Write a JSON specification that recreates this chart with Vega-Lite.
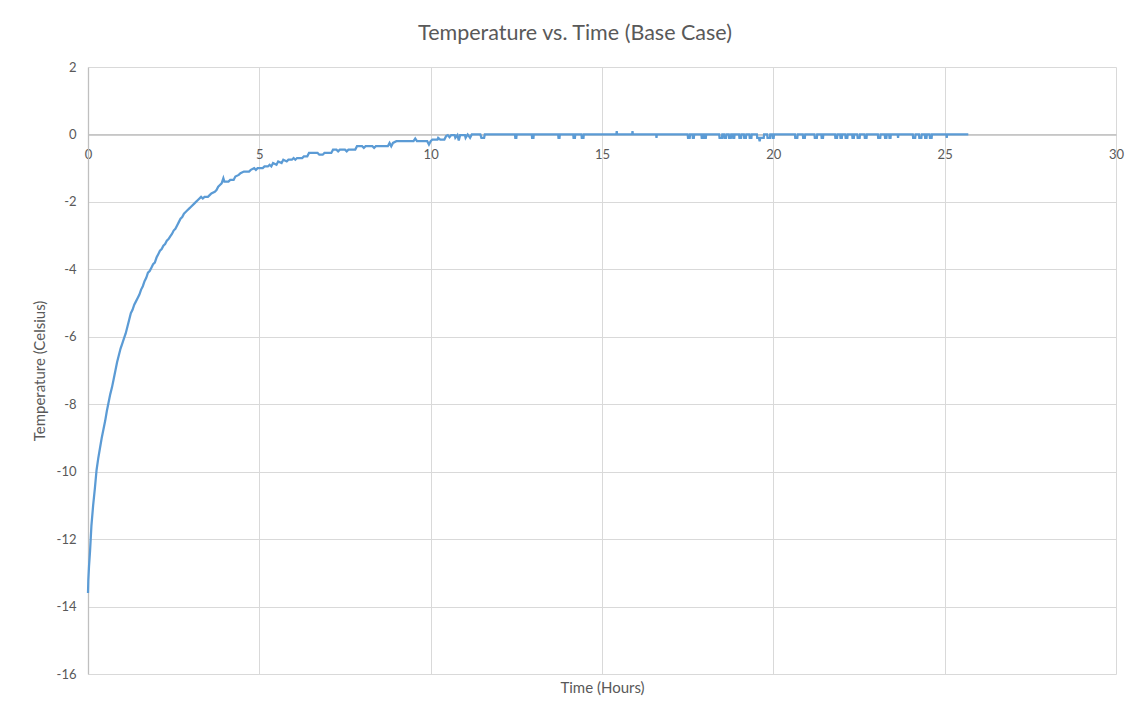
{
  "$schema": "https://vega.github.io/schema/vega-lite/v6.json",
  "width": 1028,
  "height": 607,
  "autosize": {"type": "none"},
  "padding": {"left": 88, "top": 67, "right": 17, "bottom": 41},
  "background": "white",
  "title": {"text": "Temperature vs. Time (Base Case)", "font": "Lato", "fontSize": 21.5, "fontWeight": "normal", "color": "#595959", "anchor": "middle", "dx": -27, "offset": 17},
  "config": {
    "view": {"stroke": null},
    "axis": {
      "labelFont": "Lato", "labelFontSize": 13, "labelColor": "#595959",
      "titleFont": "Lato", "titleFontSize": 15, "titleFontWeight": "normal", "titleColor": "#595959",
      "gridColor": "#D9D9D9", "gridWidth": 1, "domainColor": "#BFBFBF", "domainWidth": 1.3, "ticks": false,
      "labelExpr": "datum.value < 0 ? '-' + abs(datum.value) : '' + datum.value"
    }
  },
  "data": {"values": [
    {"hours": 0, "temp": -13.6}, {"hours": 0.01, "temp": -13.2}, {"hours": 0.03, "temp": -12.8}, {"hours": 0.06, "temp": -12.35},
    {"hours": 0.1, "temp": -11.6}, {"hours": 0.15, "temp": -11.0}, {"hours": 0.2, "temp": -10.5}, {"hours": 0.25, "temp": -9.95},
    {"hours": 0.3, "temp": -9.6}, {"hours": 0.35, "temp": -9.3}, {"hours": 0.4, "temp": -9.0}, {"hours": 0.45, "temp": -8.75},
    {"hours": 0.5, "temp": -8.5}, {"hours": 0.55, "temp": -8.2}, {"hours": 0.6, "temp": -7.95}, {"hours": 0.65, "temp": -7.7},
    {"hours": 0.7, "temp": -7.5}, {"hours": 0.75, "temp": -7.25}, {"hours": 0.8, "temp": -7.0}, {"hours": 0.85, "temp": -6.75},
    {"hours": 0.9, "temp": -6.55}, {"hours": 0.95, "temp": -6.35}, {"hours": 1.0, "temp": -6.2}, {"hours": 1.05, "temp": -6.05},
    {"hours": 1.1, "temp": -5.9}, {"hours": 1.15, "temp": -5.7}, {"hours": 1.2, "temp": -5.5}, {"hours": 1.25, "temp": -5.3},
    {"hours": 1.3, "temp": -5.2}, {"hours": 1.35, "temp": -5.05}, {"hours": 1.4, "temp": -4.95}, {"hours": 1.45, "temp": -4.85},
    {"hours": 1.5, "temp": -4.75}, {"hours": 1.55, "temp": -4.6}, {"hours": 1.6, "temp": -4.5}, {"hours": 1.65, "temp": -4.35},
    {"hours": 1.7, "temp": -4.25}, {"hours": 1.75, "temp": -4.1}, {"hours": 1.8, "temp": -4.05}, {"hours": 1.85, "temp": -3.95},
    {"hours": 1.9, "temp": -3.85}, {"hours": 1.95, "temp": -3.8}, {"hours": 2.0, "temp": -3.65}, {"hours": 2.05, "temp": -3.55},
    {"hours": 2.1, "temp": -3.45}, {"hours": 2.15, "temp": -3.4}, {"hours": 2.2, "temp": -3.3}, {"hours": 2.25, "temp": -3.25},
    {"hours": 2.3, "temp": -3.15}, {"hours": 2.35, "temp": -3.1}, {"hours": 2.4, "temp": -3.02}, {"hours": 2.45, "temp": -2.95},
    {"hours": 2.5, "temp": -2.85}, {"hours": 2.55, "temp": -2.8}, {"hours": 2.6, "temp": -2.7}, {"hours": 2.65, "temp": -2.6},
    {"hours": 2.7, "temp": -2.5}, {"hours": 2.75, "temp": -2.45}, {"hours": 2.8, "temp": -2.35}, {"hours": 2.85, "temp": -2.3},
    {"hours": 2.9, "temp": -2.25}, {"hours": 2.95, "temp": -2.2}, {"hours": 3.0, "temp": -2.15}, {"hours": 3.1, "temp": -2.05},
    {"hours": 3.15, "temp": -2.0}, {"hours": 3.2, "temp": -1.95}, {"hours": 3.3, "temp": -1.85}, {"hours": 3.35, "temp": -1.9},
    {"hours": 3.4, "temp": -1.85}, {"hours": 3.5, "temp": -1.85}, {"hours": 3.55, "temp": -1.8}, {"hours": 3.6, "temp": -1.75},
    {"hours": 3.7, "temp": -1.7}, {"hours": 3.75, "temp": -1.65}, {"hours": 3.8, "temp": -1.55}, {"hours": 3.85, "temp": -1.5},
    {"hours": 3.9, "temp": -1.45}, {"hours": 3.95, "temp": -1.3}, {"hours": 3.98, "temp": -1.4}, {"hours": 4.1, "temp": -1.4},
    {"hours": 4.15, "temp": -1.35}, {"hours": 4.25, "temp": -1.35}, {"hours": 4.3, "temp": -1.25}, {"hours": 4.4, "temp": -1.2},
    {"hours": 4.45, "temp": -1.15}, {"hours": 4.55, "temp": -1.1}, {"hours": 4.7, "temp": -1.1}, {"hours": 4.75, "temp": -1.05},
    {"hours": 4.85, "temp": -1.0}, {"hours": 4.9, "temp": -1.05}, {"hours": 4.95, "temp": -1.0}, {"hours": 5.1, "temp": -1.0},
    {"hours": 5.15, "temp": -0.95}, {"hours": 5.25, "temp": -0.95}, {"hours": 5.3, "temp": -0.9}, {"hours": 5.35, "temp": -0.95},
    {"hours": 5.4, "temp": -0.85}, {"hours": 5.5, "temp": -0.9}, {"hours": 5.55, "temp": -0.8}, {"hours": 5.65, "temp": -0.85},
    {"hours": 5.7, "temp": -0.75}, {"hours": 5.8, "temp": -0.8}, {"hours": 5.85, "temp": -0.75}, {"hours": 5.95, "temp": -0.75},
    {"hours": 6.0, "temp": -0.7}, {"hours": 6.05, "temp": -0.75}, {"hours": 6.1, "temp": -0.7}, {"hours": 6.25, "temp": -0.7},
    {"hours": 6.3, "temp": -0.65}, {"hours": 6.4, "temp": -0.65}, {"hours": 6.45, "temp": -0.55}, {"hours": 6.7, "temp": -0.55},
    {"hours": 6.75, "temp": -0.6}, {"hours": 6.85, "temp": -0.6}, {"hours": 6.9, "temp": -0.55}, {"hours": 7.1, "temp": -0.55},
    {"hours": 7.15, "temp": -0.45}, {"hours": 7.25, "temp": -0.45}, {"hours": 7.3, "temp": -0.5}, {"hours": 7.35, "temp": -0.45},
    {"hours": 7.5, "temp": -0.45}, {"hours": 7.55, "temp": -0.5}, {"hours": 7.6, "temp": -0.45}, {"hours": 7.8, "temp": -0.45},
    {"hours": 7.85, "temp": -0.35}, {"hours": 8.0, "temp": -0.35}, {"hours": 8.05, "temp": -0.4}, {"hours": 8.1, "temp": -0.35},
    {"hours": 8.3, "temp": -0.35}, {"hours": 8.35, "temp": -0.4}, {"hours": 8.4, "temp": -0.35}, {"hours": 8.75, "temp": -0.35},
    {"hours": 8.8, "temp": -0.25}, {"hours": 8.85, "temp": -0.35}, {"hours": 8.9, "temp": -0.25}, {"hours": 9.0, "temp": -0.2},
    {"hours": 9.5, "temp": -0.2}, {"hours": 9.55, "temp": -0.12}, {"hours": 9.6, "temp": -0.2}, {"hours": 9.9, "temp": -0.2},
    {"hours": 9.95, "temp": -0.3}, {"hours": 10.0, "temp": -0.2}, {"hours": 10.05, "temp": -0.15}, {"hours": 10.2, "temp": -0.15},
    {"hours": 10.22, "temp": -0.1}, {"hours": 10.28, "temp": -0.15}, {"hours": 10.4, "temp": -0.15}, {"hours": 10.45, "temp": -0.05},
    {"hours": 10.5, "temp": -0.02}, {"hours": 10.55, "temp": -0.08}, {"hours": 10.6, "temp": -0.02}, {"hours": 10.7, "temp": -0.02},
    {"hours": 10.72, "temp": -0.1}, {"hours": 10.78, "temp": -0.02}, {"hours": 10.82, "temp": -0.18}, {"hours": 10.86, "temp": -0.02},
    {"hours": 11.0, "temp": -0.02}, {"hours": 11.02, "temp": -0.1}, {"hours": 11.08, "temp": 0}, {"hours": 11.15, "temp": -0.1},
    {"hours": 11.2, "temp": 0}, {"hours": 11.45, "temp": 0}, {"hours": 11.48, "temp": -0.1}, {"hours": 11.56, "temp": -0.1},
    {"hours": 11.58, "temp": 0},
    {"hours": 12.46, "temp": 0}, {"hours": 12.47, "temp": -0.1}, {"hours": 12.5, "temp": -0.1}, {"hours": 12.51, "temp": 0},
    {"hours": 12.95, "temp": 0}, {"hours": 12.96, "temp": -0.1}, {"hours": 13.0, "temp": -0.1}, {"hours": 13.01, "temp": 0},
    {"hours": 13.72, "temp": 0}, {"hours": 13.73, "temp": -0.1}, {"hours": 13.76, "temp": -0.1}, {"hours": 13.77, "temp": 0},
    {"hours": 14.16, "temp": 0}, {"hours": 14.17, "temp": -0.1}, {"hours": 14.21, "temp": -0.1}, {"hours": 14.22, "temp": 0},
    {"hours": 14.4, "temp": 0}, {"hours": 14.41, "temp": -0.1}, {"hours": 14.46, "temp": -0.1}, {"hours": 14.47, "temp": 0},
    {"hours": 15.42, "temp": 0}, {"hours": 15.43, "temp": 0.1}, {"hours": 15.44, "temp": 0},
    {"hours": 15.88, "temp": 0}, {"hours": 15.89, "temp": 0.1}, {"hours": 15.9, "temp": 0},
    {"hours": 16.58, "temp": 0}, {"hours": 16.59, "temp": -0.1}, {"hours": 16.6, "temp": 0},
    {"hours": 17.5, "temp": 0}, {"hours": 17.51, "temp": -0.1}, {"hours": 17.56, "temp": -0.1}, {"hours": 17.57, "temp": 0},
    {"hours": 17.64, "temp": 0}, {"hours": 17.65, "temp": -0.1}, {"hours": 17.68, "temp": -0.1}, {"hours": 17.69, "temp": 0},
    {"hours": 17.9, "temp": 0}, {"hours": 17.91, "temp": -0.1}, {"hours": 17.95, "temp": -0.1}, {"hours": 17.96, "temp": 0},
    {"hours": 18.0, "temp": 0}, {"hours": 18.01, "temp": -0.1}, {"hours": 18.03, "temp": -0.1}, {"hours": 18.04, "temp": 0},
    {"hours": 18.42, "temp": 0}, {"hours": 18.43, "temp": -0.1}, {"hours": 18.5, "temp": -0.1}, {"hours": 18.51, "temp": 0},
    {"hours": 18.56, "temp": 0}, {"hours": 18.57, "temp": -0.1}, {"hours": 18.62, "temp": -0.1}, {"hours": 18.63, "temp": 0},
    {"hours": 18.7, "temp": 0}, {"hours": 18.71, "temp": -0.1}, {"hours": 18.76, "temp": -0.1}, {"hours": 18.77, "temp": 0},
    {"hours": 18.82, "temp": 0}, {"hours": 18.83, "temp": -0.1}, {"hours": 18.86, "temp": -0.1}, {"hours": 18.87, "temp": 0},
    {"hours": 19.0, "temp": 0}, {"hours": 19.01, "temp": -0.1}, {"hours": 19.06, "temp": -0.1}, {"hours": 19.07, "temp": 0},
    {"hours": 19.14, "temp": 0}, {"hours": 19.15, "temp": -0.1}, {"hours": 19.2, "temp": -0.1}, {"hours": 19.21, "temp": 0},
    {"hours": 19.3, "temp": 0}, {"hours": 19.31, "temp": -0.1}, {"hours": 19.36, "temp": -0.1}, {"hours": 19.37, "temp": 0},
    {"hours": 19.52, "temp": 0}, {"hours": 19.53, "temp": -0.1}, {"hours": 19.58, "temp": -0.1}, {"hours": 19.6, "temp": -0.2},
    {"hours": 19.62, "temp": -0.1}, {"hours": 19.72, "temp": -0.1}, {"hours": 19.73, "temp": 0},
    {"hours": 19.82, "temp": 0}, {"hours": 19.83, "temp": -0.1}, {"hours": 19.9, "temp": -0.1}, {"hours": 19.91, "temp": 0},
    {"hours": 19.97, "temp": 0}, {"hours": 19.98, "temp": -0.1}, {"hours": 20.01, "temp": -0.1}, {"hours": 20.02, "temp": 0},
    {"hours": 20.63, "temp": 0}, {"hours": 20.64, "temp": -0.1}, {"hours": 20.7, "temp": -0.1}, {"hours": 20.71, "temp": 0},
    {"hours": 20.86, "temp": 0}, {"hours": 20.87, "temp": -0.1}, {"hours": 20.92, "temp": -0.1}, {"hours": 20.93, "temp": 0},
    {"hours": 21.2, "temp": 0}, {"hours": 21.21, "temp": -0.1}, {"hours": 21.27, "temp": -0.1}, {"hours": 21.28, "temp": 0},
    {"hours": 21.4, "temp": 0}, {"hours": 21.41, "temp": -0.1}, {"hours": 21.45, "temp": -0.1}, {"hours": 21.46, "temp": 0},
    {"hours": 21.8, "temp": 0}, {"hours": 21.81, "temp": -0.1}, {"hours": 21.86, "temp": -0.1}, {"hours": 21.87, "temp": 0},
    {"hours": 21.95, "temp": 0}, {"hours": 21.96, "temp": -0.1}, {"hours": 22.0, "temp": -0.1}, {"hours": 22.01, "temp": 0},
    {"hours": 22.1, "temp": 0}, {"hours": 22.11, "temp": -0.1}, {"hours": 22.16, "temp": -0.1}, {"hours": 22.17, "temp": 0},
    {"hours": 22.3, "temp": 0}, {"hours": 22.31, "temp": -0.1}, {"hours": 22.35, "temp": -0.1}, {"hours": 22.36, "temp": 0},
    {"hours": 22.45, "temp": 0}, {"hours": 22.46, "temp": -0.1}, {"hours": 22.52, "temp": -0.1}, {"hours": 22.53, "temp": 0},
    {"hours": 22.66, "temp": 0}, {"hours": 22.67, "temp": -0.1}, {"hours": 22.72, "temp": -0.1}, {"hours": 22.73, "temp": 0},
    {"hours": 23.05, "temp": 0}, {"hours": 23.06, "temp": -0.1}, {"hours": 23.12, "temp": -0.1}, {"hours": 23.13, "temp": 0},
    {"hours": 23.25, "temp": 0}, {"hours": 23.26, "temp": -0.1}, {"hours": 23.3, "temp": -0.1}, {"hours": 23.31, "temp": 0},
    {"hours": 23.38, "temp": 0}, {"hours": 23.39, "temp": -0.1}, {"hours": 23.42, "temp": -0.1}, {"hours": 23.43, "temp": 0},
    {"hours": 23.63, "temp": 0}, {"hours": 23.64, "temp": -0.1}, {"hours": 23.65, "temp": 0},
    {"hours": 24.07, "temp": 0}, {"hours": 24.08, "temp": -0.1}, {"hours": 24.14, "temp": -0.1}, {"hours": 24.15, "temp": 0},
    {"hours": 24.25, "temp": 0}, {"hours": 24.26, "temp": -0.1}, {"hours": 24.32, "temp": -0.1}, {"hours": 24.33, "temp": 0},
    {"hours": 24.42, "temp": 0}, {"hours": 24.43, "temp": -0.1}, {"hours": 24.47, "temp": -0.1}, {"hours": 24.48, "temp": 0},
    {"hours": 24.56, "temp": 0}, {"hours": 24.57, "temp": -0.1}, {"hours": 24.62, "temp": -0.1}, {"hours": 24.63, "temp": 0},
    {"hours": 25.05, "temp": 0}, {"hours": 25.06, "temp": -0.1}, {"hours": 25.07, "temp": 0},
    {"hours": 25.69, "temp": 0}
  ]},
  "mark": {"type": "line", "color": "#5B9BD5", "strokeWidth": 2.25},
  "encoding": {
    "x": {
      "field": "hours", "type": "quantitative",
      "scale": {"domain": [0, 30], "nice": false, "zero": false},
      "axis": {"title": "Time (Hours)", "values": [0, 5, 10, 15, 20, 25, 30], "offset": -539.5, "labelPadding": 14, "titleY": 553, "titleBaseline": "middle", "labelFlush": false}
    },
    "y": {
      "field": "temp", "type": "quantitative",
      "scale": {"domain": [-16, 2], "nice": false, "zero": false},
      "axis": {"title": "Temperature (Celsius)", "values": [-16, -14, -12, -10, -8, -6, -4, -2, 0, 2], "labelPadding": 12, "titlePadding": 9}
    }
  }
}
